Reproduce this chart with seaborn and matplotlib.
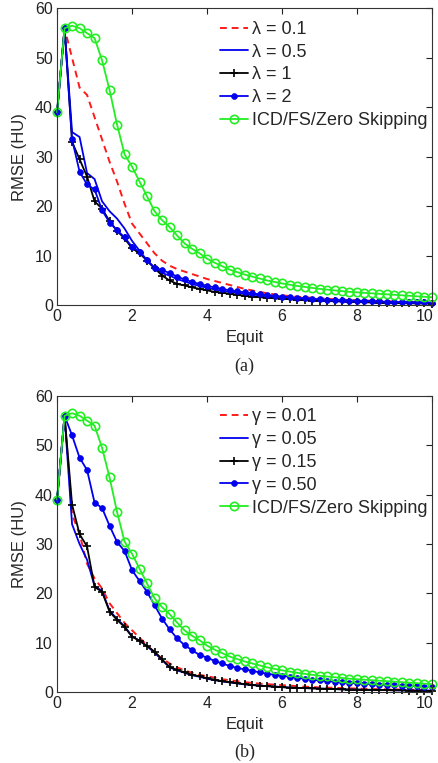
import numpy as np
import matplotlib
matplotlib.use("Agg")
import matplotlib.pyplot as plt
import matplotlib.transforms as mtransforms
import seaborn as sns

equit = [round(0.2 * i, 1) for i in range(51)]

icd = [39, 56, 56.5, 56, 55, 54, 49.5, 43.5, 36.5, 30.5, 28, 25, 22, 19, 17.2, 15.8, 14.1, 12.5, 11.4, 10.5,
       9.4, 8.6, 7.9, 7.2, 6.7, 6.2, 5.8, 5.4, 5.0, 4.7, 4.4, 4.15, 3.9, 3.7, 3.5, 3.3, 3.15, 3.0, 2.85, 2.7,
       2.6, 2.5, 2.4, 2.3, 2.2, 2.1, 2.0, 1.9, 1.8, 1.7, 1.6]

lam_01 = [39, 56, 50, 44, 42.5, 38, 33.5, 29, 25, 20.5, 16.5, 14.5, 12.5, 10.5, 9, 8, 7.3, 6.8, 6.3, 5.8,
          5.3, 4.9, 4.5, 4.1, 3.7, 3.3, 3.0, 2.7, 2.4, 2.2, 2.0, 1.85, 1.7, 1.6, 1.5, 1.4, 1.3, 1.2, 1.1, 1.05,
          1.0, 0.95, 0.9, 0.85, 0.8, 0.75, 0.7, 0.65, 0.6, 0.55, 0.5]
lam_05 = [39, 56, 35, 34, 26.7, 25.5, 21, 19, 17.5, 15.5, 13, 11, 9, 7.5, 6.5, 6, 5.3, 4.8, 4.3, 3.9,
          3.5, 3.2, 2.9, 2.7, 2.5, 2.3, 2.15, 2.0, 1.85, 1.7, 1.6, 1.5, 1.4, 1.3, 1.2, 1.1, 1.05, 1.0, 0.95, 0.9,
          0.85, 0.8, 0.75, 0.7, 0.65, 0.6, 0.6, 0.55, 0.55, 0.5, 0.5]
lam_1 = [39, 56, 33, 29.5, 26, 21, 19.5, 17, 15, 13.5, 11.5, 10.5, 9, 7.5, 6, 5, 4.3, 4.0, 3.6, 3.3,
         3.0, 2.7, 2.5, 2.3, 2.1, 1.9, 1.75, 1.6, 1.5, 1.4, 1.3, 1.2, 1.1, 1.0, 0.95, 0.9, 0.85, 0.8, 0.75, 0.7,
         0.65, 0.6, 0.55, 0.5, 0.5, 0.45, 0.4, 0.4, 0.35, 0.35, 0.3]
lam_2 = [39, 56, 33.5, 27, 24.4, 23.4, 19.2, 16.7, 15.2, 13.7, 11.8, 10.8, 9.1, 7.6, 7.1, 6.5, 5.8, 5.2, 4.7, 4.3,
         3.9, 3.6, 3.3, 3.0, 2.8, 2.6, 2.4, 2.2, 2.05, 1.9, 1.75, 1.6, 1.5, 1.4, 1.3, 1.2, 1.1, 1.05, 1.0, 0.95,
         0.9, 0.85, 0.8, 0.75, 0.7, 0.65, 0.6, 0.6, 0.55, 0.55, 0.5]

gam_001 = [39, 56, 36, 32, 26, 23, 21, 18, 16, 14, 12.5, 11, 9.5, 8, 6.8, 5.8, 5.0, 4.4, 3.9, 3.5,
           3.2, 2.9, 2.6, 2.4, 2.2, 2.0, 1.85, 1.7, 1.6, 1.5, 1.4, 1.3, 1.2, 1.1, 1.0, 0.95, 0.9, 0.85, 0.8, 0.75,
           0.7, 0.65, 0.6, 0.6, 0.55, 0.55, 0.5, 0.5, 0.45, 0.45, 0.4]
gam_005 = [39, 56, 34, 30, 26.8, 21.5, 20.5, 16.5, 14.8, 13.3, 11.3, 10.4, 9.3, 8.0, 6.5, 5.0, 4.4, 3.9, 3.4, 3.1,
           2.7, 2.4, 2.15, 1.95, 1.75, 1.55, 1.4, 1.3, 1.2, 1.1, 1.0, 0.9, 0.85, 0.8, 0.75, 0.7, 0.65, 0.6, 0.55, 0.5,
           0.5, 0.45, 0.45, 0.4, 0.4, 0.35, 0.35, 0.3, 0.3, 0.3, 0.25]
gam_015 = [39, 56, 38, 32, 29.5, 21.3, 20.3, 16.3, 14.6, 13.2, 11.2, 10.4, 9.3, 8.2, 6.6, 5.1, 4.5, 4.0, 3.5, 3.2,
           2.8, 2.5, 2.2, 2.0, 1.8, 1.6, 1.45, 1.3, 1.2, 1.1, 1.0, 0.9, 0.85, 0.8, 0.75, 0.7, 0.65, 0.6, 0.55, 0.5,
           0.5, 0.45, 0.45, 0.4, 0.4, 0.35, 0.35, 0.3, 0.3, 0.3, 0.25]
gam_050 = [39, 56, 52, 47.5, 45, 38.4, 37.3, 33.7, 30.4, 28.6, 24.7, 22.5, 20.3, 17.6, 14.9, 12.7, 10.9, 9.5, 8.5, 7.5,
           7.0, 6.3, 5.8, 5.3, 4.9, 4.6, 4.3, 4.0, 3.7, 3.5, 3.3, 3.1, 2.9, 2.7, 2.5, 2.35, 2.2, 2.1, 2.0, 1.9,
           1.8, 1.7, 1.6, 1.5, 1.45, 1.4, 1.3, 1.25, 1.2, 1.1, 1.0]

labels_a = ["λ = 0.1", "λ = 0.5", "λ = 1", "λ = 2", "ICD/FS/Zero Skipping"]
labels_b = ["γ = 0.01", "γ = 0.05", "γ = 0.15", "γ = 0.50", "ICD/FS/Zero Skipping"]

sns.set_theme(style="white")
plt.rcParams['font.family'] = ['Liberation Sans', 'DejaVu Sans']

RED, BLUE, GREEN = "#ff1a1a", "#0000ee", "#22ee22"
styles = [
    dict(color=RED, linestyle=(0, (3.5, 2.5)), lw=1.4),
    dict(color=BLUE, linestyle="-", lw=1.3),
    dict(color="black", linestyle="-", lw=1.3, marker="+", markersize=6,
         markeredgewidth=1.2, markeredgecolor="black"),
    dict(color=BLUE, linestyle="-", lw=1.3, marker="o", markersize=4.2,
         markeredgewidth=0.5, markeredgecolor=BLUE, markerfacecolor=BLUE),
    dict(color=GREEN, linestyle="-", lw=1.3, marker="o", markersize=6, markerfacecolor="none",
         markeredgewidth=1.2, markeredgecolor=GREEN),
]

fig = plt.figure(figsize=(4.39, 7.63), dpi=100)
ax_a = fig.add_axes([0.130, 0.600, 0.854, 0.389])
ax_b = fig.add_axes([0.130, 0.093, 0.854, 0.388])

def draw(ax, series, labels, tag):
    for ys, lab, st in zip(series, labels, styles):
        assert len(ys) == len(equit)
        sns.lineplot(x=equit, y=ys, ax=ax, label=lab, clip_on=False, **st)
    ax.set_xlim(0, 10)
    ax.set_ylim(0, 60)
    ax.set_xticks([0, 2, 4, 6, 8, 10])
    ax.set_yticks([0, 10, 20, 30, 40, 50, 60])
    ax.tick_params(direction="in", top=True, right=True, length=4, width=0.8,
                   labelsize=11.5, colors="#222222", pad=3)
    for s in ax.spines.values():
        s.set_color("#333333")
        s.set_linewidth(0.8)
    ax.set_xlabel("Equit", fontsize=12, labelpad=4)
    ax.set_ylabel("RMSE (HU)", fontsize=12, labelpad=6)
    ax.legend(loc="upper left", bbox_to_anchor=(0.435, 0.958), frameon=False, fontsize=13,
              handlelength=1.55, handletextpad=0.22, labelspacing=0.32,
              borderaxespad=0, borderpad=0)
    ax.text(0.5, -0.205, tag, transform=ax.transAxes, ha="center", va="center",
            fontsize=13, family=["Liberation Serif", "DejaVu Serif"])
    fig.canvas.draw()
    last = ax.get_xticklabels()[-1]
    last.set_transform(last.get_transform() +
                       mtransforms.ScaledTranslation(-5 / 72, 0, fig.dpi_scale_trans))

draw(ax_a, [lam_01, lam_05, lam_1, lam_2, icd], labels_a, "(a)")
draw(ax_b, [gam_001, gam_005, gam_015, gam_050, icd], labels_b, "(b)")

fig.savefig("out.png", dpi=100)
